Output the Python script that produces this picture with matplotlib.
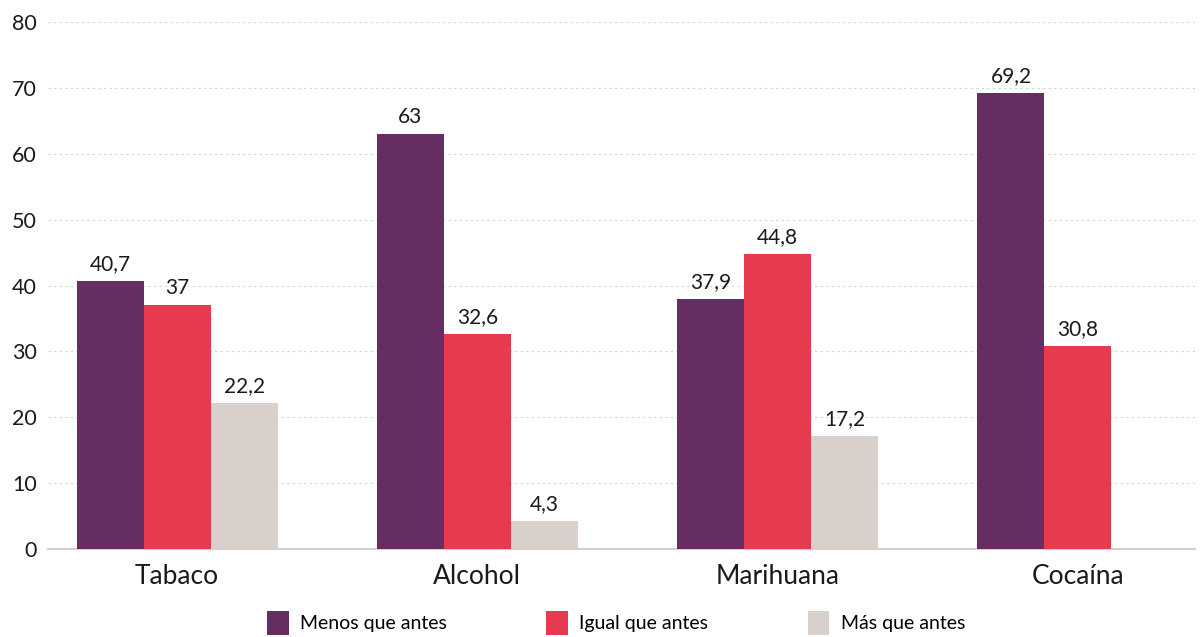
import matplotlib
matplotlib.use('Agg')
import matplotlib.pyplot as plt
import numpy as np

categorias = ['Tabaco', 'Alcohol', 'Marihuana', 'Cocaína']
menos = [40.7, 63, 37.9, 69.2]
igual = [37, 32.6, 44.8, 30.8]
mas = [22.2, 4.3, 17.2, None]
series = ['Menos que antes', 'Igual que antes', 'Más que antes']
colores = ['#662D62', '#E63B4E', '#D9D0CB']

plt.rcParams['font.family'] = ['Lato', 'DejaVu Sans']

fig = plt.figure(figsize=(12.01, 6.37), dpi=100)
ax = fig.add_axes([48 / 1201, 1 - 549 / 637, (1195 - 48) / 1201, (549 - 22) / 637])

x = np.arange(len(categorias))
w = 0.223
for i, (vals, nombre, col) in enumerate(zip([menos, igual, mas], series, colores)):
    pos = [xi + (i - 1) * w for xi, v in zip(x, vals) if v is not None]
    alt = [v for v in vals if v is not None]
    bars = ax.bar(pos, alt, width=w, color=col, label=nombre, zorder=3)
    for b, v in zip(bars, alt):
        txt = f'{v:g}'.replace('.', ',')
        ax.annotate(txt, (b.get_x() + b.get_width() / 2, v), xytext=(0, 5),
                    textcoords='offset points', ha='center', va='bottom',
                    fontsize=15, color='#1a1a1a')

ax.set_ylim(0, 80)
ax.set_xlim(-0.43, 3.39)
ax.set_yticks(range(0, 81, 10))
ax.set_xticks(x)
ax.set_xticklabels(categorias, fontsize=19, color='#1a1a1a')
ax.tick_params(axis='y', length=0, pad=8, labelsize=15.5, labelcolor='#1a1a1a')
ax.tick_params(axis='x', length=0, pad=11)
ax.yaxis.grid(True, linestyle=(0, (2, 3)), color='#d4d4d4', linewidth=0.8, zorder=0)
for s in ['top', 'right', 'left']:
    ax.spines[s].set_visible(False)
ax.spines['bottom'].set_color('#d0d0d0')
ax.spines['bottom'].set_linewidth(1.5)

# leyenda en una fila bajo el eje
fig.legend(loc='center', bbox_to_anchor=(0.513, 0.022), ncol=3, frameon=False,
           fontsize=14, handlelength=1.1, handleheight=1.5, columnspacing=5.1,
           handletextpad=0.6)

fig.savefig('out.png', dpi=100)
